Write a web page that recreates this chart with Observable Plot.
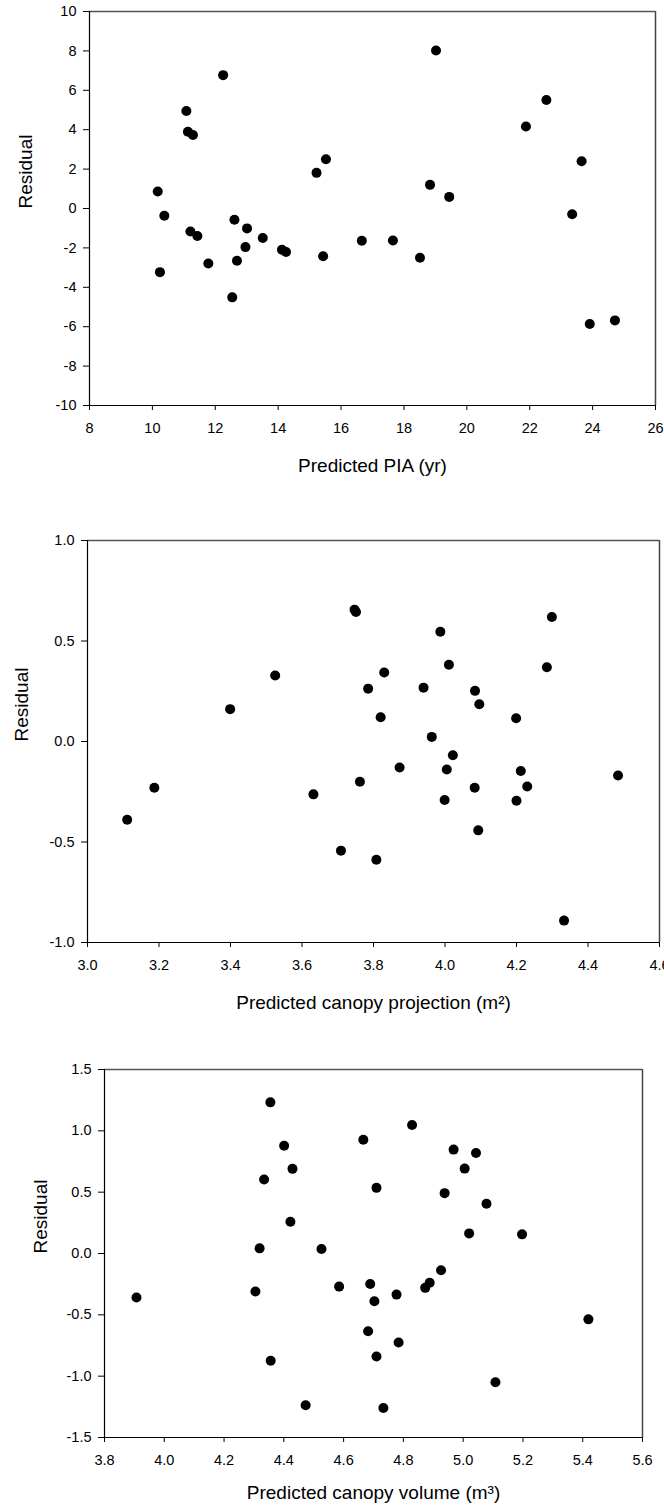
<!DOCTYPE html>
<html><head><meta charset="utf-8">
<script src="https://cdn.jsdelivr.net/npm/d3@7"></script>
<script src="https://cdn.jsdelivr.net/npm/@observablehq/plot@0.6"></script>
<style>
html,body{margin:0;padding:0;background:#fff;}
#chart{width:664px;overflow:hidden;}
#chart svg{display:block;}
</style></head><body><div id="chart"></div>
<script>
// ---- Panel 1: Predicted PIA (yr) ----
const predPIA  = [10.17, 10.38, 10.24, 11.08, 11.13, 11.29, 11.21, 11.43, 11.78, 12.25, 12.61, 12.54, 12.69, 13.01, 12.96, 13.51, 14.12, 14.25, 15.22, 15.52, 15.43, 16.66, 17.65, 18.51, 18.83, 19.02, 19.44, 21.88, 22.53, 23.35, 23.65, 23.91, 24.71];
const residPIA = [0.86, -0.37, -3.23, 4.95, 3.90, 3.73, -1.17, -1.40, -2.79, 6.77, -0.57, -4.51, -2.65, -1.01, -1.96, -1.50, -2.09, -2.21, 1.81, 2.50, -2.42, -1.64, -1.62, -2.50, 1.20, 8.02, 0.59, 4.16, 5.51, -0.29, 2.40, -5.86, -5.68];
const piaXTicks = [8, 10, 12, 14, 16, 18, 20, 22, 24, 26];
const piaYTicks = [-10, -8, -6, -4, -2, 0, 2, 4, 6, 8, 10];

// ---- Panel 2: Predicted canopy projection (m2) ----
const predProj  = [3.111, 3.187, 3.399, 3.525, 3.632, 3.709, 3.747, 3.751, 3.762, 3.785, 3.808, 3.820, 3.830, 3.873, 3.940, 3.963, 3.987, 3.999, 4.005, 4.011, 4.022, 4.083, 4.084, 4.093, 4.096, 4.199, 4.200, 4.212, 4.230, 4.285, 4.299, 4.333, 4.484];
const residProj = [-0.389, -0.230, 0.161, 0.328, -0.263, -0.543, 0.656, 0.644, -0.200, 0.263, -0.588, 0.121, 0.343, -0.129, 0.268, 0.023, 0.546, -0.291, -0.139, 0.382, -0.068, -0.230, 0.252, -0.442, 0.185, 0.116, -0.295, -0.147, -0.224, 0.369, 0.619, -0.891, -0.169];
const projXTicks = [3.0, 3.2, 3.4, 3.6, 3.8, 4.0, 4.2, 4.4, 4.6];
const projYTicks = [-1.0, -0.5, 0.0, 0.5, 1.0];

// ---- Panel 3: Predicted canopy volume (m3) ----
const predVol  = [3.907, 4.305, 4.319, 4.334, 4.355, 4.356, 4.401, 4.422, 4.429, 4.473, 4.526, 4.585, 4.666, 4.682, 4.689, 4.703, 4.710, 4.710, 4.733, 4.777, 4.784, 4.829, 4.873, 4.888, 4.926, 4.938, 4.968, 5.005, 5.020, 5.043, 5.078, 5.108, 5.197, 5.419];
const residVol = [-0.359, -0.310, 0.042, 0.603, 1.232, -0.874, 0.879, 0.259, 0.690, -1.237, 0.037, -0.270, 0.928, -0.634, -0.248, -0.389, -0.839, 0.535, -1.259, -0.335, -0.725, 1.047, -0.280, -0.239, -0.136, 0.492, 0.847, 0.692, 0.164, 0.820, 0.405, -1.050, 0.156, -0.537];
const volXTicks = [3.8, 4.0, 4.2, 4.4, 4.6, 4.8, 5.0, 5.2, 5.4, 5.6];
const volYTicks = [-1.5, -1.0, -0.5, 0.0, 0.5, 1.0, 1.5];

const yTitle = "Residual";
const xTitles = ["Predicted PIA (yr)", "Predicted canopy projection (m\u00B2)", "Predicted canopy volume (m\u00B3)"];

const FONT = "'Liberation Sans', Arial, Helvetica, sans-serif";
const intFmt = d => String(d);
const oneDec = d => d.toFixed(1);

function panel(o) {
  const data = o.xs.map((x, i) => ({x, y: o.ys[i]}));
  const xDomain = [o.xTicks[0], o.xTicks[o.xTicks.length - 1]];
  const yDomain = [o.yTicks[0], o.yTicks[o.yTicks.length - 1]];
  return Plot.plot({
    width: 664, height: o.height,
    marginTop: o.mt, marginBottom: o.mb, marginLeft: o.ml, marginRight: o.mr,
    style: {fontFamily: FONT, fontSize: "14.5px", color: "#000", background: "#fff"},
    x: {domain: xDomain},
    y: {domain: yDomain},
    marks: [
      Plot.axisX({ticks: o.xTicks, tickFormat: o.xFmt, tickSize: 5, tickPadding: 12, label: null}),
      Plot.axisY({ticks: o.yTicks, tickFormat: o.yFmt, tickSize: 6, tickPadding: 7, label: null}),
      Plot.ruleY([yDomain[1]], {stroke: "#555", strokeWidth: 1.5}),
      Plot.ruleX([xDomain[1]], {stroke: "#444", strokeWidth: 1.5}),
      Plot.ruleY([yDomain[0]], {stroke: "#000", strokeWidth: 1.2}),
      Plot.ruleX([xDomain[0]], {stroke: "#000", strokeWidth: 1.2}),
      Plot.dot(data, {x: "x", y: "y", r: 5, fill: "#000", stroke: null}),
      Plot.text([o.xLabel], {text: d => d, frameAnchor: "bottom", lineAnchor: "bottom", dy: o.xLabelDy, fontSize: 19}),
      Plot.text([yTitle], {text: d => d, frameAnchor: "left", rotate: -90, dx: -o.yLabelDx, fontSize: 19})
    ]
  });
}

const chart = document.getElementById("chart");
chart.appendChild(panel({xs: predPIA, ys: residPIA, xTicks: piaXTicks, yTicks: piaYTicks, xFmt: intFmt, yFmt: intFmt,
  xLabel: xTitles[0], height: 480, mt: 11, mb: 75, ml: 89, mr: 9, xLabelDy: 66, yLabelDx: 64}));
chart.appendChild(panel({xs: predProj, ys: residProj, xTicks: projXTicks, yTicks: projYTicks, xFmt: oneDec, yFmt: oneDec,
  xLabel: xTitles[1], height: 550, mt: 60, mb: 88, ml: 87, mr: 5, xLabelDy: 66, yLabelDx: 66}));
chart.appendChild(panel({xs: predVol, ys: residVol, xTicks: volXTicks, yTicks: volYTicks, xFmt: oneDec, yFmt: oneDec,
  xLabel: xTitles[2], height: 482, mt: 39, mb: 75, ml: 104, mr: 22, xLabelDy: 61, yLabelDx: 64}));
</script></body></html>
